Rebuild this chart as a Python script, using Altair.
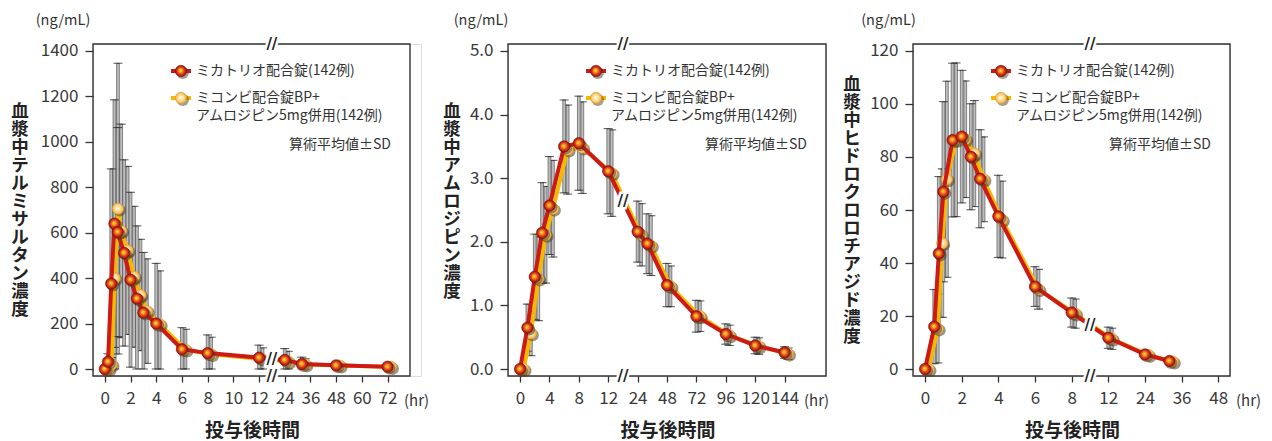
import altair as alt
import pandas as pd

# ---------------- data ----------------
# Panel 1: telmisartan
P1_TIME = [0, 0.25, 0.5, 0.75, 1, 1.5, 2, 2.5, 3, 4, 6, 8, 12, 24, 32, 48, 72]
P1_RED_MEAN = [0, 32, 376, 640, 603, 511, 393, 310, 248, 200, 87, 70, 50, 40, 22, 16, 10]
P1_RED_SD = [0, 35, 505, 545, 460, 410, 385, 320, 265, 265, 95, 80, 55, 50, 30, 10, 6]
P1_YEL_MEAN = [0, 20, 400, 706, 608, 522, 406, 326, 255, 197, 85, 65, 43, 33, 20, 15, 9]
P1_YEL_SD = [0, 30, 480, 640, 470, 370, 310, 245, 230, 235, 90, 75, 50, 45, 25, 9, 5]
P1_XTICKS = ["0", "2", "4", "6", "8", "10", "12", "24", "36", "48", "60", "72"]
P1_YTICKS = [0, 200, 400, 600, 800, 1000, 1200, 1400]
P1_TITLE = "血漿中テルミサルタン濃度"

# Panel 2: amlodipine
P2_TIME = [0, 1, 2, 3, 4, 6, 8, 12, 24, 32, 48, 72, 96, 120, 144]
P2_RED_MEAN = [0.0, 0.65, 1.45, 2.14, 2.57, 3.50, 3.55, 3.11, 2.16, 1.97, 1.32, 0.83, 0.55, 0.37, 0.26]
P2_RED_SD = [0, 0.37, 0.67, 0.79, 0.77, 0.73, 0.74, 0.67, 0.48, 0.47, 0.34, 0.25, 0.16, 0.13, 0.09]
P2_YEL_MEAN = [0.0, 0.56, 1.42, 2.11, 2.52, 3.45, 3.48, 3.08, 2.11, 1.94, 1.30, 0.83, 0.53, 0.36, 0.24]
P2_YEL_SD = [0, 0.35, 0.66, 0.76, 0.76, 0.70, 0.72, 0.68, 0.49, 0.47, 0.32, 0.24, 0.16, 0.13, 0.09]
P2_XTICKS = ["0", "4", "8", "12", "24", "48", "72", "96", "120", "144"]
P2_YTICKS = [0, 1, 2, 3, 4, 5]
P2_TITLE = "血漿中アムロジピン濃度"

# Panel 3: hydrochlorothiazide
P3_TIME = [0, 0.5, 0.75, 1, 1.5, 2, 2.5, 3, 4, 6, 8, 12, 24, 32]
P3_RED_MEAN = [0, 16.0, 43.6, 66.9, 86.4, 87.7, 80.1, 71.8, 57.6, 31.1, 21.3, 11.8, 5.5, 3.0]
P3_RED_SD = [0, 14, 29, 34, 29, 25, 20, 18.5, 15.5, 7.5, 5.5, 4, 1, 0.5]
P3_YEL_MEAN = [0, 15.3, 47.5, 71.6, 86.5, 86.7, 81.3, 71.6, 56.4, 30.1, 20.9, 11.4, 5.3, 2.8]
P3_YEL_SD = [0, 13, 28, 37, 29, 22, 20, 16, 14.5, 7.5, 5.5, 4, 1, 0.5]
P3_XTICKS = ["0", "2", "4", "6", "8", "12", "24", "36", "48"]
P3_YTICKS = [0, 20, 40, 60, 80, 100, 120]
P3_TITLE = "血漿中ヒドロクロロチアジド濃度"

LEG_RED = "ミカトリオ配合錠(142例)"
LEG_YEL1 = "ミコンビ配合錠BP+"
LEG_YEL2 = "アムロジピン5mg併用(142例)"
NOTE = "算術平均値±SD"
XTITLE = "投与後時間"
UNIT = "(ng/mL)"
HR = "(hr)"


# broken-axis position functions (hours -> axis units)
def pos1(h):
    return h if h <= 12 else 14 + (h - 24) / 6


def pos2(h):
    return h / 4 if h <= 12 else 4 + (h - 24) / 24


def pos3(h):
    if h <= 8:
        return h
    if h <= 12:
        return 8 + (h - 8) / 2
    return 10 + (h - 12) / 6


FONT = "Noto Sans CJK JP"
RED = "#cc1b17"
YEL = "#f7b900"
RED_FILL = {
    "gradient": "radial", "x1": 0.45, "y1": 0.45, "r1": 0,
    "x2": 0.5, "y2": 0.5, "r2": 0.5,
    "stops": [
        {"offset": 0, "color": "#ffe14a"},
        {"offset": 0.3, "color": "#f5a21c"},
        {"offset": 0.65, "color": "#d9361a"},
        {"offset": 1, "color": "#9b0f0f"},
    ],
}
YEL_FILL = {
    "gradient": "radial", "x1": 0.45, "y1": 0.45, "r1": 0,
    "x2": 0.5, "y2": 0.5, "r2": 0.5,
    "stops": [
        {"offset": 0, "color": "#fffbe8"},
        {"offset": 0.45, "color": "#ffe3a3"},
        {"offset": 1, "color": "#f2ac3c"},
    ],
}

H = 332


def series_df(times, means, sds, fn):
    return pd.DataFrame({
        "t": times,
        "pos": [fn(t) for t in times],
        "mean": means,
        "lo": [max(0, m - s) for m, s in zip(means, sds)],
        "hi": [m + s for m, s in zip(means, sds)],
    })


def make_panel(cfg):
    W = cfg["w"]
    VW = cfg["vw"]
    fn = cfg["fn"]
    red = series_df(cfg["time"], cfg["red_mean"], cfg["red_sd"], fn)
    yel = series_df(cfg["time"], cfg["yel_mean"], cfg["yel_sd"], fn)
    tick_pos = [fn(float(t)) for t in cfg["xticks"]]
    step = tick_pos[1] - tick_pos[0]
    arr = "[" + ",".join("'%s'" % t for t in cfg["xticks"]) + "]"
    label_expr = "%s[round(datum.value/%s)]" % (arr, step)

    xscale = alt.Scale(domain=cfg["xdom"], range=[0, W], nice=False, zero=False)
    xaxis = alt.Axis(values=tick_pos, labelExpr=label_expr, title=None, domain=False,
                     grid=False, tickSize=6, tickColor="#333", tickWidth=1.3,
                     labelFont=FONT, labelFontSize=17, labelColor="#3a3a3a",
                     labelPadding=8, labelFlush=False, labelOverlap=False, labelBound=False)
    xenc = alt.X("pos:Q", scale=xscale, axis=xaxis)
    yaxis = alt.Axis(values=cfg["yticks"], title=None, domain=False, grid=False,
                     tickSize=8, tickColor="#333", tickWidth=1.3, labelFont=FONT,
                     labelFontSize=17, labelColor="#3a3a3a", labelPadding=7,
                     format=cfg["yfmt"], labelOverlap=False)
    yscale = alt.Scale(domain=cfg["ydom"], nice=False, zero=False)

    def Y(field):
        return alt.Y(field, scale=yscale, axis=yaxis)

    one = alt.Data(values=[{"k": 1}])
    layers = []
    # frame
    layers.append(alt.Chart(one).mark_rect(fillOpacity=0, stroke="#333", strokeWidth=1.4).encode(
        x=alt.value(0), x2=alt.value(W), y=alt.value(0), y2=alt.value(H)))

    # error bars
    for df, off in ((yel, 3.5), (red, 0)):
        base = alt.Chart(df)
        layers.append(base.mark_bar(size=2.8, color="#bdbdbd", stroke="#444",
                                    strokeWidth=0.6, xOffset=off).encode(
            x=xenc, y=Y("lo:Q"), y2="hi:Q"))
        layers.append(base.mark_tick(orient="horizontal", size=9, thickness=1.1,
                                     color="#222", xOffset=off).encode(x=xenc, y=Y("hi:Q")))
        layers.append(base.mark_tick(orient="horizontal", size=9, thickness=1.1,
                                     color="#222", xOffset=off).encode(x=xenc, y=Y("lo:Q")))

    # lines and points
    for df, off, col, fill, stroke in ((yel, 3.5, YEL, YEL_FILL, "#d99a30"),
                                       (red, 0, RED, RED_FILL, "#7a0d0d")):
        base = alt.Chart(df)
        layers.append(base.mark_line(color=col, strokeWidth=4, xOffset=off).encode(
            x=xenc, y=Y("mean:Q")))
        layers.append(base.mark_circle(size=150, color="#4d3d22", opacity=0.55,
                                       xOffset=off + 1.8, yOffset=1.8).encode(
            x=xenc, y=Y("mean:Q")))
        layers.append(base.mark_circle(size=130, fill=fill, stroke=stroke, strokeWidth=0.6,
                                       opacity=1, xOffset=off).encode(
            x=xenc, y=Y("mean:Q")))

    # break marks
    bx = cfg["brk"]
    i12 = [i for i, p in enumerate(red["pos"]) if p < bx][-1]
    by = (red["mean"][i12] + red["mean"][i12 + 1]) / 2
    bxenc = alt.XDatum(bx, type="quantitative", scale=xscale, axis=xaxis)
    for yv in (alt.value(0), alt.value(H), alt.YDatum(by, type="quantitative", scale=yscale, axis=yaxis)):
        layers.append(alt.Chart(one).mark_text(text="//", font="DejaVu Sans", fontSize=15,
                                               fontWeight="bold", color="white", stroke="white",
                                               strokeWidth=5).encode(x=bxenc, y=yv))
        layers.append(alt.Chart(one).mark_text(text="//", font="DejaVu Sans", fontSize=15,
                                               fontWeight="bold", color="#222").encode(
            x=bxenc, y=yv))

    # legend
    for ly, col, fill, stroke in ((27, RED, RED_FILL, "#7a0d0d"), (54, YEL, YEL_FILL, "#d99a30")):
        layers.append(alt.Chart(one).mark_rule(color=col, strokeWidth=4).encode(
            x=alt.value(78), x2=alt.value(98), y=alt.value(ly)))
        layers.append(alt.Chart(one).mark_circle(size=150, color="#4d3d22", opacity=0.5).encode(
            x=alt.value(89.8), y=alt.value(ly + 1.8)))
        layers.append(alt.Chart(one).mark_circle(size=130, fill=fill, stroke=stroke,
                                                 strokeWidth=0.6, opacity=1).encode(
            x=alt.value(88), y=alt.value(ly)))
    txt = dict(font=FONT, fontSize=14, color="#333", baseline="middle")
    for tx, ty, s, al in ((103, 27, LEG_RED, "left"), (103, 54, LEG_YEL1, "left"),
                          (103, 72, LEG_YEL2, "left"), (W - 19, 101, NOTE, "right")):
        layers.append(alt.Chart(one).mark_text(align=al, **txt).encode(
            x=alt.value(tx), y=alt.value(ty), text=alt.value(s)))

    # axis texts
    layers.append(alt.Chart(one).mark_text(align="center", baseline="top", font=FONT,
                                           fontSize=17.5, fontWeight="bold", lineHeight=18,
                                           color="#222").encode(
        x=alt.value(cfg["tx"]), y=alt.value(cfg["ty"]), text=alt.value(list(cfg["title"]))))
    layers.append(alt.Chart(one).mark_text(align="center", baseline="middle", font=FONT,
                                           fontSize=19, fontWeight="bold", color="#222").encode(
        x=alt.value(W / 2 + 1), y=alt.value(387), text=alt.value(XTITLE)))
    layers.append(alt.Chart(one).mark_text(align="center", baseline="middle", font=FONT,
                                           fontSize=14.5, color="#333").encode(
        x=alt.value(cfg["ux"]), y=alt.value(-23.5), text=alt.value(UNIT)))
    layers.append(alt.Chart(one).mark_text(align="left", baseline="middle", font=FONT,
                                           fontSize=15, color="#333").encode(
        x=alt.value(cfg["hx"]), y=alt.value(357), text=alt.value(HR)))

    return alt.layer(*layers).properties(width=VW, height=H)


p1 = make_panel(dict(w=317, vw=328, fn=pos1, time=P1_TIME, red_mean=P1_RED_MEAN, red_sd=P1_RED_SD,
                     yel_mean=P1_YEL_MEAN, yel_sd=P1_YEL_SD, xticks=P1_XTICKS, yticks=P1_YTICKS,
                     xdom=[-0.53, 23.36], ydom=[-30.8, 1430.8], yfmt="d", brk=13,
                     title=P1_TITLE, tx=-73, ty=59, ux=-30, hx=311))
p2 = make_panel(dict(w=318, vw=318, fn=pos2, time=P2_TIME, red_mean=P2_RED_MEAN, red_sd=P2_RED_SD,
                     yel_mean=P2_YEL_MEAN, yel_sd=P2_YEL_SD, xticks=P2_XTICKS, yticks=P2_YTICKS,
                     xdom=[-0.24, 10.24], ydom=[-0.11, 5.11], yfmt=".1f", brk=3.5,
                     title=P2_TITLE, tx=-56, ty=59, ux=-27, hx=296))
p3 = make_panel(dict(w=317, vw=317, fn=pos3, time=P3_TIME, red_mean=P3_RED_MEAN, red_sd=P3_RED_SD,
                     yel_mean=P3_YEL_MEAN, yel_sd=P3_YEL_SD, xticks=P3_XTICKS, yticks=P3_YTICKS,
                     xdom=[-0.386, 16.37], ydom=[-2.64, 122.64], yfmt="d", brk=9,
                     title=P3_TITLE, tx=-61, ty=32, ux=-24.5, hx=323))

chart = alt.hconcat(p1, p2, p3, spacing=87, bounds="flush").properties(
    padding={"left": 2, "top": 4, "right": 2, "bottom": 0}
).configure_view(strokeWidth=0).configure_axis(labelOverlap=False, labelBound=False).configure(
    background="white")

chart.save("out.html", embed_options={"renderer": "svg", "actions": False})
